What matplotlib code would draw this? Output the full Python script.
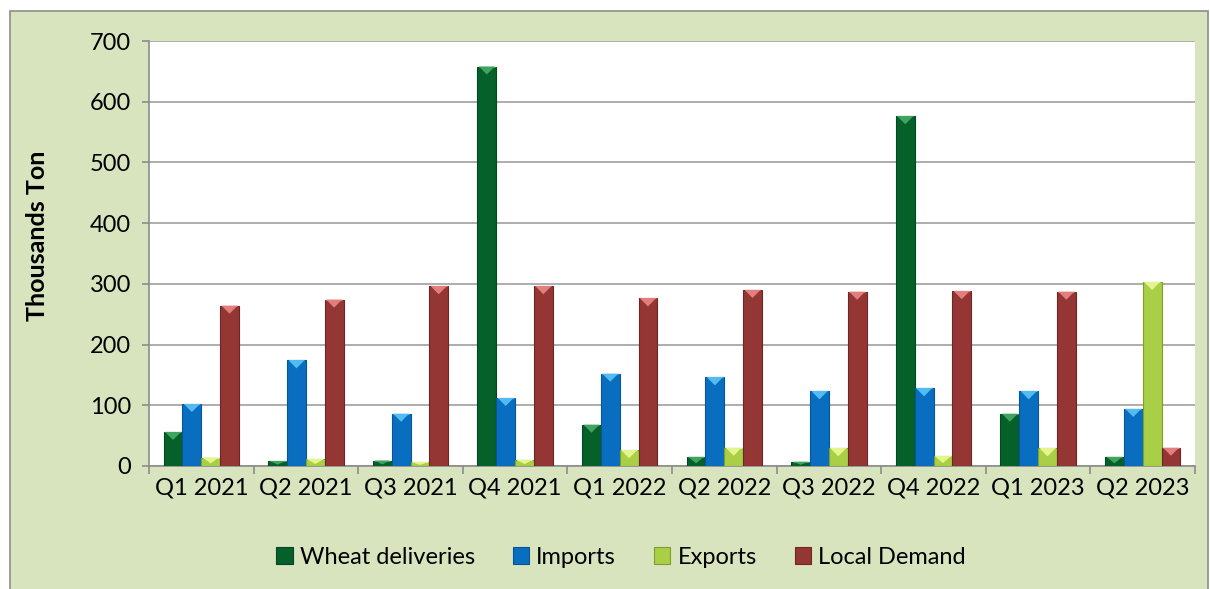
import matplotlib
matplotlib.use("Agg")
import matplotlib.pyplot as plt
from matplotlib.patches import Patch, Polygon, Rectangle
import numpy as np

categories = ["Q1 2021", "Q2 2021", "Q3 2021", "Q4 2021", "Q1 2022",
              "Q2 2022", "Q3 2022", "Q4 2022", "Q1 2023", "Q2 2023"]
wheat = [56, 8, 9, 658, 68, 15, 7, 576, 86, 15]
imports = [102, 174, 86, 112, 152, 146, 123, 128, 123, 94]
exports = [14, 11, 6, 10, 26, 30, 29, 16, 29, 303]
local_demand = [264, 274, 296, 296, 276, 290, 287, 288, 287, 30]
series_names = ["Wheat deliveries", "Imports", "Exports", "Local Demand"]
y_ticks = [0, 100, 200, 300, 400, 500, 600, 700]

face_colors = ["#05602A", "#0A6EC0", "#A9CF47", "#943634"]
edge_colors = ["#03481F", "#07549A", "#7E9E2E", "#6E2524"]
top_colors = ["#3FA45F", "#52BCF2", "#E4F58C", "#E27F7C"]

plt.rcParams['font.family'] = ['Lato', 'DejaVu Sans']

W, H = 1210, 589
fig = plt.figure(figsize=(W / 100, H / 100), dpi=100)
fig.patch.set_facecolor("white")
bg = Rectangle((10 / W, -0.02), (1208 - 10) / W, (H - 11) / H + 0.02,
               transform=fig.transFigure, facecolor="#D8E4BE",
               edgecolor="#8C8C8C", linewidth=1.2, zorder=-10)
fig.patches.append(bg)

left, right, top, bottom = 149, 1195, 41, 466
ax = fig.add_axes([left / W, 1 - bottom / H, (right - left) / W, (bottom - top) / H])
ax.set_facecolor("white")

series = [wheat, imports, exports, local_demand]
x = np.arange(len(categories))
bw = 0.18
px_per_unit = (bottom - top) / 700.0
tri_h = 8 / px_per_unit

for i, (vals, name) in enumerate(zip(series, series_names)):
    offs = (i - 1.5) * bw
    bars = ax.bar(x + offs, vals, width=bw, color=face_colors[i],
                  edgecolor=edge_colors[i], linewidth=0.8, zorder=3, label=name)
    for b in bars:
        x0 = b.get_x()
        w = b.get_width()
        hgt = b.get_height()
        th = min(tri_h, hgt * 0.7)
        inset = w * 0.08
        tri = Polygon([(x0 + inset, hgt), (x0 + w - inset, hgt), (x0 + w / 2, hgt - th)],
                      closed=True, facecolor=top_colors[i], edgecolor="none", zorder=4)
        ax.add_patch(tri)
        ax.plot([x0 + inset, x0 + w - inset], [hgt, hgt], color=top_colors[i],
                lw=0.8, zorder=4, solid_capstyle="butt")

ax.set_xlim(-0.5, len(categories) - 0.5)
ax.set_ylim(0, 700)
ax.set_yticks(y_ticks)
ax.set_yticklabels([str(v) for v in y_ticks], fontsize=17)
ax.set_xticks(x)
ax.set_xticklabels(categories, fontsize=17)
ax.set_xticks(np.arange(-0.5, len(categories)), minor=True)
ax.tick_params(axis="x", which="major", length=0, pad=8, colors="black")
ax.tick_params(axis="x", which="minor", length=6, width=1.2, color="#8C8C8C", direction="out")
ax.tick_params(axis="y", length=5, width=1.2, color="#8C8C8C", direction="out", pad=8)

grid_c = "#A0A0A0"
ax.yaxis.grid(True, color=grid_c, linewidth=1.2, zorder=0)
ax.set_axisbelow(True)
for s in ["top", "right"]:
    ax.spines[s].set_visible(False)
for s in ["left", "bottom"]:
    ax.spines[s].set_color("#8C8C8C")
    ax.spines[s].set_linewidth(1.2)

fig.text(38 / W, 1 - 236 / H, "Thousands Ton", rotation=90, fontsize=18,
         fontweight="bold", ha="center", va="center")

handles = [Patch(facecolor=face_colors[i], edgecolor=edge_colors[i], linewidth=0.8)
           for i in range(4)]
fig.legend(handles, series_names, loc="center", bbox_to_anchor=(621 / W, 1 - 557 / H),
           bbox_transform=fig.transFigure, ncol=4, frameon=False, fontsize=17,
           handlelength=0.7, handleheight=0.7, handletextpad=0.3, columnspacing=1.6)

fig.savefig("out.png", dpi=100, facecolor=fig.get_facecolor())
